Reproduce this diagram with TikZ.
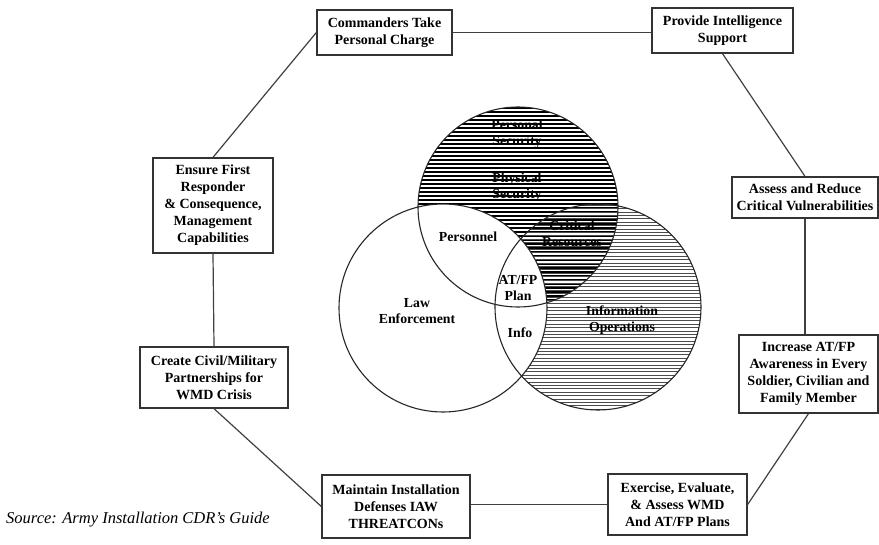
\documentclass[tikz,border=0pt]{standalone}
\usepackage{fontspec}
\setmainfont{Liberation Serif}
\begin{document}
\begin{tikzpicture}[x=1pt,y=-1pt,
  box/.style={draw=black!80, line width=1.3pt, fill=white, align=center, inner sep=0pt,
    font=\bfseries\fontsize{14}{17}\selectfont},
  lab/.style={align=center, inner sep=0pt, font=\bfseries\fontsize{13.8}{16.5}\selectfont},
  link/.style={draw=black!75, line width=1.2pt},
  ring/.style={draw=black!85, line width=1.1pt}]
\useasboundingbox (0,0) rectangle (879,545);
% hatched circles
\begin{scope}
  \clip (518,207) circle [radius=100pt];
  \foreach \y in {104,108,...,312} \draw[line width=2.1pt, black] (410,\y) -- (630,\y);
\end{scope}
\begin{scope}
  \clip (598,307) circle [radius=103pt];
  \foreach \y in {202,205.4,...,414} \draw[line width=1pt, black!70] (490,\y) -- (705,\y);
\end{scope}
\fill[white] (443,308) circle [radius=104pt];
\draw[ring] (518,207) circle [radius=100pt];
\draw[ring] (598,307) circle [radius=103pt];
\draw[ring] (443,308) circle [radius=104pt];
% venn labels
\node[lab] (ps) at (517,134) {Personal\\Security};
\node[lab] (phs) at (517,187) {Physical\\Security};
\node[lab] (pers) at (468,237) {Personnel};
\node[lab] (crit) at (572,234) {Critical\\Resources};
\node[lab] (atfp) at (518,288) {AT/FP\\Plan};
\node[lab] (law) at (417,311) {Law\\Enforcement};
\node[lab] (info) at (520,333) {Info};
\node[lab] (io) at (622,320) {Information\\Operations};
% boxes
\node[box, minimum width=135pt, minimum height=45pt] (c1) at (384.5,32.5) {Commanders Take\\Personal Charge};
\node[box, minimum width=141pt, minimum height=45pt] (c2) at (722.5,30.5) {Provide Intelligence\\Support};
\node[box, minimum width=146pt, minimum height=41pt] (c3) at (805,197.5) {Assess and Reduce\\Critical Vulnerabilities};
\node[box, minimum width=139pt, minimum height=78pt] (c4) at (808.5,374) {Increase AT/FP\\Awareness in Every\\Soldier, Civilian and\\Family Member};
\node[box, minimum width=139pt, minimum height=61pt] (c5) at (677.5,504.5) {Exercise, Evaluate,\\\& Assess WMD\\And AT/FP Plans};
\node[box, minimum width=148pt, minimum height=63pt] (c6) at (396,506.5) {Maintain Installation\\Defenses IAW\\THREATCONs};
\node[box, minimum width=148pt, minimum height=61pt] (c7) at (214,377.5) {Create Civil/Military\\Partnerships for\\WMD Crisis};
\node[box, minimum width=120pt, minimum height=95pt] (c8) at (213,205.5) {Ensure First\\Responder\\\& Consequence,\\Management\\Capabilities};
% connectors
\draw[link] (c1.east) -- (c1.east -| c2.west);
\draw[link] (c2.south) -- (c3.north);
\draw[link] (c3.south) -- (c3.south |- c4.north);
\draw[link] (c4.south) -- (c5.east);
\draw[link] (c5.west) -- (c5.west -| c6.east);
\draw[link] (c6.west) -- (c7.south);
\draw[link] (c7.north) -- (c8.south);
\draw[link] (c8.north) -- (c1.west);
% source
\node[anchor=west, inner sep=0pt, font=\itshape\fontsize{16.5}{18}\selectfont] (src) at (6,520) {Source: Army Installation CDR's Guide};
\end{tikzpicture}
\end{document}
